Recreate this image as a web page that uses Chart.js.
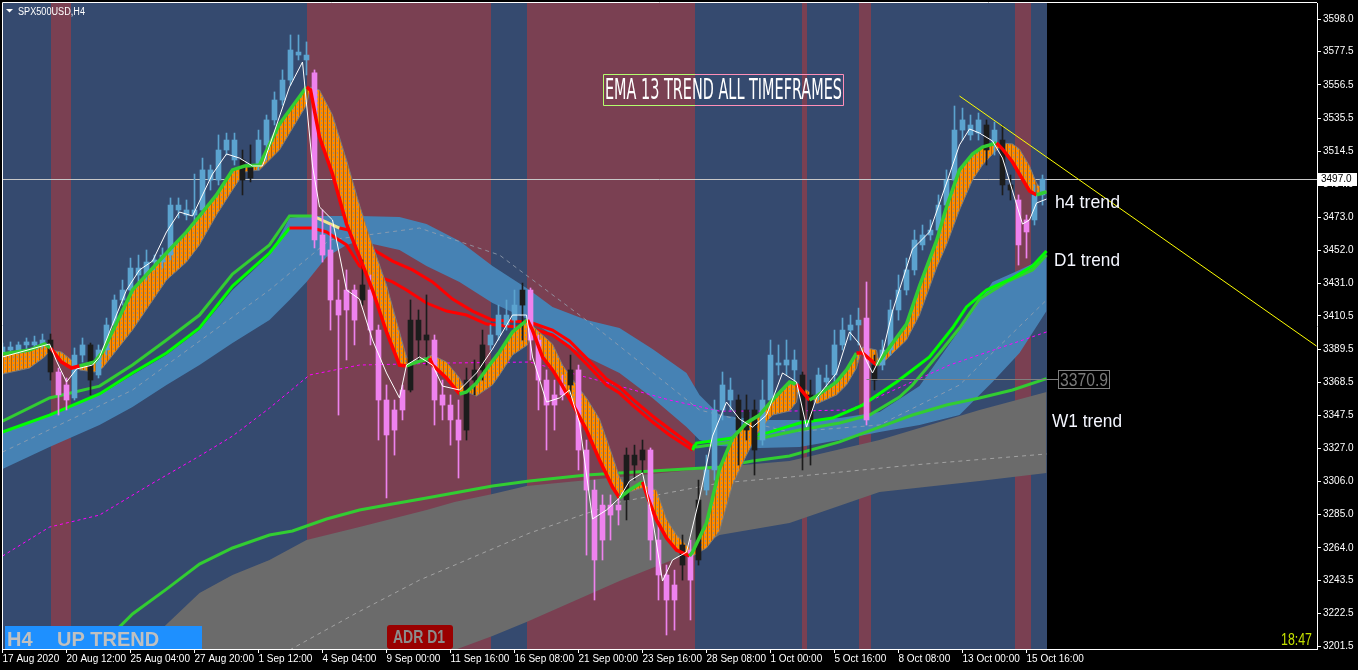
<!DOCTYPE html>
<html>
<head>
<meta charset="utf-8">
<title>SPX500USD,H4</title>
<script src="https://cdn.jsdelivr.net/npm/chart.js@4.4.0/dist/chart.umd.min.js"></script>
<style>
  html, body { margin: 0; padding: 0; background: #000; }
  #wrap { width: 1358px; height: 670px; }
</style>
</head>
<body>
<div id="wrap"><canvas id="chart" width="1358" height="670"></canvas></div>
<script>
/* ========================================================
   DATA  (x = H4 bar index, y = price)
======================================================== */
const symbolName  = 'SPX500USD,H4';
const chartTitle  = 'EMA 13 TREND ALL TIMEFRAMES';
const currentPrice = 3497.0;
const w1Level      = 3370.9;

const xTickBars   = [0, 16, 32, 48, 64, 80, 96, 112, 128, 144, 160, 176, 192, 208, 224, 240, 256];
const xTickLabels = ['17 Aug 2020', '20 Aug 12:00', '25 Aug 04:00', '27 Aug 20:00', '1 Sep 12:00', '4 Sep 04:00',
                     '9 Sep 00:00', '11 Sep 16:00', '16 Sep 08:00', '21 Sep 00:00', '23 Sep 16:00', '28 Sep 08:00',
                     '1 Oct 00:00', '5 Oct 16:00', '8 Oct 08:00', '13 Oct 00:00', '15 Oct 16:00'];
const yTickValues = [3598.0, 3577.5, 3556.5, 3535.5, 3514.5, 3494.0, 3473.0, 3452.0, 3431.0, 3410.5,
                     3389.5, 3368.5, 3347.5, 3327.0, 3306.0, 3285.0, 3264.0, 3243.5, 3222.5, 3201.5];

// trend sessions behind the candles (1 = up, -1 = down)
const bandFrom = [-0.25, 12, 17, 76, 122, 131, 173, 200, 201, 214, 217, 253, 257];
const bandTo   = [12, 17, 76, 122, 131, 173, 200, 201, 214, 217, 253, 257, 261];
const bandDir  = [1, -1, 1, -1, 1, -1, 1, -1, 1, -1, 1, -1, 1];

// candles, one every 2 H4 bars
const candleOpen = [3387.7,3390.9,3389.0,3392.2,3394.1,3392.2,3395.3,3375.1,3366.9,3358.7,3385.8,3392.2,3373.2,3389.0,3404.8,3420.6,3426.9,3440.8,3436.4,3444.6,
  3444.6,3449.0,3480.6,3477.5,3474.3,3477.5,3502.8,3496.4,3515.4,3521.7,3509.1,3497.7,3505.9,3518.6,3534.4,3547.0,3559.6,3577.3,3575.4,3564.1,
  3461.7,3452.2,3420.6,3414.3,3426.9,3420.6,3426.9,3401.6,3357.4,3338.4,3351.1,3363.7,3407.9,3395.3,3395.3,3360.6,3354.2,3344.8,3338.4,3370.0,
  3376.4,3392.2,3398.5,3411.1,3407.9,3417.4,3426.9,3395.3,3370.0,3354.2,3360.6,3366.9,3376.4,3325.8,3300.5,3268.9,3291.0,3287.9,3294.2,3322.6,
  3319.5,3325.8,3268.9,3246.8,3231.0,3253.1,3262.6,3256.3,3300.5,3313.2,3351.1,3363.7,3357.4,3338.4,3351.1,3332.1,3357.4,3379.5,3379.5,3382.7,
  3373.2,3344.8,3360.6,3371.3,3373.2,3392.2,3401.6,3404.8,3409.2,3370.0,3379.5,3389.0,3414.3,3426.9,3439.6,3455.4,3461.7,3464.8,3480.6,3496.4,
  3528.0,3531.2,3526.1,3531.2,3518.6,3521.7,3493.3,3483.8,3463.6,3471.2,3487.0];
const candleHigh = [3393.4,3394.1,3394.1,3396.6,3397.8,3399.1,3399.1,3377.6,3371.3,3390.3,3396.6,3393.4,3392.2,3409.2,3423.8,3433.2,3447.1,3449.0,3452.2,3449.0,
  3453.5,3485.1,3485.1,3483.8,3500.2,3510.3,3505.9,3524.9,3526.1,3526.1,3515.4,3518.6,3528.0,3537.5,3552.1,3566.0,3588.1,3588.1,3583.7,3566.0,
  3477.5,3468.0,3433.2,3439.6,3430.1,3445.9,3436.4,3404.8,3366.9,3357.4,3366.9,3420.6,3414.3,3423.8,3398.5,3370.0,3360.6,3357.4,3377.6,3382.7,
  3401.6,3404.8,3417.4,3420.6,3426.9,3431.3,3428.2,3398.5,3376.4,3370.0,3373.2,3385.8,3379.5,3332.1,3306.8,3297.4,3297.4,3297.4,3327.1,3328.9,
  3332.1,3327.1,3281.6,3253.1,3249.9,3272.1,3268.9,3306.8,3322.6,3357.4,3375.1,3371.3,3360.6,3360.6,3357.4,3370.0,3395.3,3392.2,3395.3,3389.0,
  3375.1,3370.0,3377.6,3379.5,3401.6,3409.2,3411.1,3415.5,3432.0,3385.8,3395.3,3420.6,3436.4,3447.1,3464.8,3468.0,3471.2,3487.0,3502.8,3543.2,
  3541.9,3537.5,3538.8,3534.4,3533.1,3531.2,3499.6,3487.0,3474.3,3493.3,3499.6];
const candleLow = [3385.2,3387.7,3386.5,3389.0,3390.3,3390.3,3370.0,3347.9,3351.1,3357.4,3381.4,3360.6,3371.3,3385.8,3401.6,3417.4,3423.8,3430.1,3433.2,3439.6,
  3440.8,3445.9,3472.4,3471.2,3468.0,3474.3,3490.1,3493.3,3512.2,3505.9,3487.0,3495.2,3502.8,3509.1,3531.2,3543.8,3556.5,3572.3,3562.8,3453.5,
  3444.6,3401.6,3347.9,3382.7,3392.2,3417.4,3392.2,3332.1,3295.5,3322.6,3344.8,3362.5,3382.7,3379.5,3341.6,3344.8,3328.9,3308.1,3332.1,3360.6,
  3370.0,3389.0,3395.3,3401.6,3401.6,3395.3,3382.7,3351.1,3325.8,3338.4,3357.4,3357.4,3313.2,3259.4,3231.0,3256.3,3268.9,3278.4,3281.6,3306.8,
  3310.0,3256.3,3231.0,3208.9,3212.0,3243.6,3218.4,3253.1,3297.4,3306.8,3344.8,3351.1,3316.3,3332.1,3310.0,3328.9,3354.2,3373.2,3373.2,3366.9,
  3313.2,3316.3,3357.4,3363.7,3366.9,3389.0,3395.3,3392.2,3341.6,3363.7,3376.4,3385.8,3407.9,3423.8,3436.4,3452.2,3458.5,3459.8,3477.5,3493.3,
  3521.7,3521.7,3521.7,3505.9,3512.2,3487.0,3483.8,3442.7,3447.1,3468.0,3480.6];
const candleClose = [3390.9,3389.0,3392.2,3394.1,3392.2,3395.3,3375.1,3360.6,3357.4,3385.8,3392.2,3370.0,3389.0,3404.8,3420.6,3426.9,3440.8,3436.4,3444.6,3445.9,
  3449.0,3480.6,3477.5,3474.3,3477.5,3502.8,3496.4,3515.4,3521.7,3509.1,3496.4,3505.9,3521.7,3534.4,3547.0,3559.6,3578.6,3575.4,3572.3,3458.5,
  3449.0,3420.6,3411.1,3426.9,3407.9,3430.1,3401.6,3357.4,3335.3,3351.1,3363.7,3407.9,3395.3,3398.5,3357.4,3354.2,3344.8,3332.1,3370.0,3376.4,
  3392.2,3398.5,3411.1,3404.8,3417.4,3426.9,3395.3,3370.0,3354.2,3360.6,3366.9,3376.4,3325.8,3300.5,3256.3,3291.0,3284.7,3291.0,3322.6,3316.3,
  3325.8,3268.9,3246.8,3231.0,3240.5,3265.8,3243.6,3294.2,3313.2,3351.1,3366.9,3357.4,3338.4,3351.1,3325.8,3357.4,3385.8,3380.8,3382.7,3376.4,
  3344.8,3360.6,3373.2,3368.8,3392.2,3401.6,3404.8,3407.9,3344.8,3379.5,3389.0,3414.3,3426.9,3439.6,3458.5,3461.7,3464.8,3480.6,3496.4,3528.0,
  3534.4,3524.9,3534.4,3515.4,3528.0,3493.3,3490.1,3455.4,3471.2,3487.0,3497.0];
// H4 trend state of each candle (1 up, -1 down, 0 mixed)
const candleTrend = [1,1,1,1,1,1,0,-1,-1,1,1,0,1,1,1,1,1,1,1,1,
  1,1,1,1,1,1,1,1,1,1,0,0,1,1,1,1,1,1,1,-1,
  -1,-1,-1,-1,-1,0,-1,-1,-1,-1,-1,0,0,0,-1,-1,-1,-1,0,0,
  0,1,1,1,1,0,-1,-1,-1,-1,-1,0,-1,-1,-1,-1,-1,-1,0,0,
  0,-1,-1,-1,-1,0,-1,0,1,1,1,1,0,0,0,1,1,1,1,1,
  0,0,1,1,1,1,1,1,-1,0,1,1,1,1,1,1,1,1,1,1,
  1,1,1,0,1,0,0,-1,-1,1,1];

// thin fast average
const whiteLine = [[0,3384.6],[11.75,3392.8],[13.5,3382.0],[16,3368.8],[18.5,3377.0],[22.5,3379.5],[24.25,3384.6],[26.75,3400.4],[31,3426.9],[34.25,3439.6],
  [37.5,3445.2],[41,3463.6],[44.25,3476.2],[47.5,3473.7],[50,3487.0],[52.5,3500.2],[56,3512.9],[59.25,3510.3],[62.5,3505.3],[65,3505.3],
  [67.5,3523.6],[71.75,3555.2],[75,3571.0],[77.5,3505.3],[79.25,3479.4],[82.5,3471.2],[86,3426.9],[89.25,3421.2],[92.5,3395.3],[96,3374.5],
  [99.25,3358.7],[101,3379.5],[104.25,3384.6],[107.5,3379.5],[110,3366.2],[114.25,3363.7],[118.5,3374.5],[122.5,3389.6],[127.5,3411.1],[131,3411.1],
  [132.5,3384.6],[136,3356.1],[139.25,3358.7],[141.75,3363.7],[144.25,3342.9],[147.5,3282.2],[151,3287.9],[154.25,3295.5],[156.75,3306.2],[160,3311.3],
  [162.5,3282.2],[165,3243.0],[167.5,3256.3],[171,3261.3],[174.25,3295.5],[177.5,3334.6],[181,3356.1],[184.25,3345.4],[187.5,3340.3],[191,3347.9],
  [195,3374.5],[198.5,3368.8],[201,3340.3],[203.5,3358.7],[208.5,3374.5],[211.75,3400.4],[214.25,3392.8],[216,3382.0],[217.5,3374.5],[220,3387.1],
  [222.5,3413.6],[227.5,3452.8],[231.75,3463.6],[236,3494.5],[239.25,3518.6],[241.75,3528.7],[244.25,3526.1],[247.5,3521.1],[250,3510.3],[252.5,3489.5],
  [255,3468.6],[256.75,3471.2],[258.5,3481.9],[261,3484.4]];

// H4 EMA 13 ribbon: [bar, fast edge, slow edge, trend]
const ribbon = [[0,3386.5,3373.8,1],[6.75,3389.0,3377.6,1],[10.5,3392.8,3384.6,1],[12,3390.3,3389.0,-1],[14.75,3381.4,3387.7,-1],
  [17.25,3377.6,3382.7,-1],[19.25,3378.9,3376.4,1],[23,3381.4,3375.1,1],[25,3387.7,3377.6,1],[32.5,3426.9,3401.6,1],
  [41,3450.3,3433.2,1],[46,3463.6,3444.6,1],[49.25,3473.7,3455.4,1],[53.5,3487.0,3474.3,1],[57.5,3502.8,3490.1,1],
  [60.5,3505.3,3501.5,1],[64.25,3505.9,3502.8,1],[69.25,3531.8,3515.4,1],[76,3555.2,3543.8,-1],[77,3553.3,3555.2,-1],
  [79.25,3523.6,3553.3,-1],[82.5,3500.2,3537.5,-1],[86,3468.6,3509.1,-1],[89.25,3447.8,3480.6,-1],[92.5,3426.9,3455.4,-1],
  [96,3400.4,3430.1,-1],[99.25,3379.5,3400.4,-1],[101,3378.9,3384.6,1],[102.25,3380.2,3381.4,1],[106.75,3383.9,3385.2,-1],
  [107.5,3379.5,3385.8,-1],[111,3371.3,3381.4,-1],[114.25,3361.2,3371.3,1],[116,3362.5,3362.5,1],[118.5,3368.1,3359.9,1],
  [122.5,3382.0,3366.9,1],[124.25,3387.7,3373.2,1],[127.5,3400.4,3385.8,1],[131.25,3408.0,3392.2,-1],[132.5,3401.6,3404.2,-1],
  [135,3384.6,3398.5,-1],[137.5,3376.4,3392.8,-1],[140,3366.2,3379.5,-1],[143.5,3350.4,3366.9,-1],[146,3338.4,3358.7,-1],
  [149.25,3319.5,3345.4,-1],[152.5,3302.4,3322.0,-1],[154.25,3295.5,3308.7,1],[156.75,3300.5,3299.3,1],[160,3305.6,3301.8,-1],
  [161,3298.0,3303.0,-1],[163.5,3281.6,3300.5,-1],[166,3270.2,3282.2,-1],[168.5,3262.6,3272.1,-1],[171.75,3258.8,3263.9,1],
  [172.5,3261.3,3258.8,1],[176,3279.7,3263.9,1],[179.25,3313.8,3274.6,1],[182.5,3333.4,3303.7,1],[186,3342.9,3322.6,1],
  [189.25,3347.9,3338.4,1],[192.5,3357.4,3347.9,1],[196.75,3368.8,3350.4,1],[198.5,3367.5,3356.1,-1],[199.25,3365.0,3366.2,-1],
  [201.75,3357.4,3362.5,1],[203.5,3359.9,3354.9,1],[208.5,3368.8,3360.6,1],[211,3376.4,3366.9,1],[213.5,3387.1,3377.6,-1],
  [215,3387.1,3390.9,-1],[218.5,3379.5,3389.0,1],[219.25,3382.0,3378.9,1],[226,3405.4,3395.3,1],[229.25,3429.4,3411.1,1],
  [233.5,3457.9,3440.8,1],[236,3479.4,3455.4,1],[239.25,3502.8,3477.5,1],[242.5,3512.9,3496.4,1],[245,3517.3,3505.9,1],
  [248.5,3519.8,3515.4,-1],[250,3516.0,3519.8,-1],[252.5,3507.8,3519.2,-1],[254.25,3500.2,3516.0,-1],[256.75,3489.5,3505.3,-1],
  [258.5,3487.0,3494.5,1],[260,3488.2,3490.1,1],[261,3488.9,3489.5,1]];

// D1 trend lines: [bar, price, trend]
const d1Fast = [[0,3337.2,1],[11.75,3347.9,1],[24.25,3361.2,1],[32.5,3374.5,1],[41,3387.1,1],[49.25,3402.9,1],[57.5,3429.4,1],[66.75,3450.3,1],
  [71.75,3466.1,-1],[77.5,3466.1,-1],[81,3463.6,-1],[86,3455.4,-1],[89.25,3442.1,-1],[92.5,3437.0,-1],[97.5,3432.0,-1],[101,3426.9,-1],
  [106,3418.7,-1],[111,3413.6,-1],[116,3411.1,-1],[121,3405.4,-1],[126,3404.2,-1],[131.75,3402.9,-1],[137.5,3398.5,-1],[141.75,3390.9,-1],
  [146,3380.2,-1],[151,3366.9,-1],[154.25,3361.8,-1],[157.5,3354.2,-1],[162.5,3343.5,-1],[166.75,3335.3,-1],[172.5,3325.8,1],[173.5,3330.2,1],
  [182.5,3333.4,1],[191,3336.5,1],[199.25,3342.9,1],[207.5,3346.0,1],[215,3354.2,1],[223.5,3368.8,1],[231.75,3384.6,1],[237.5,3402.9,1],
  [241,3416.2,1],[246,3426.9,1],[252.5,3434.5,1],[257.5,3442.1,1],[261,3451.6,1]];
const d1Slow = [[0,3344.1,1],[11.75,3358.7,1],[24.25,3366.2,1],[32.5,3379.5,1],[41,3395.3,1],[49.25,3411.1,1],[57.5,3437.0,1],[66.75,3455.4,1],
  [71.75,3473.7,1],[77.5,3473.7,0],[84.25,3466.1,-1],[88.75,3463.6,-1],[92.5,3452.8,-1],[97.5,3445.2,-1],[102.5,3439.6,-1],[107.5,3432.0,-1],
  [112.5,3421.2,-1],[117.5,3413.6,-1],[122.5,3407.9,-1],[131.75,3406.7,-1],[137.5,3401.6,-1],[141.75,3394.7,-1],[146,3383.9,-1],[151,3370.7,-1],
  [154.25,3365.6,-1],[157.5,3358.0,-1],[162.5,3347.3,-1],[166.75,3339.1,-1],[172.5,3328.3,1],[173.5,3327.7,1],[182.5,3330.9,1],[191,3334.0,1],
  [199.25,3338.4,1],[209.25,3342.9,1],[216.75,3347.9,1],[224.25,3359.3,1],[227.5,3366.9,1],[234.25,3387.1,1],[239.25,3402.9,1],[244.25,3421.2,1],
  [251,3432.0,1],[257.5,3439.6,1],[261,3449.0,1]];

// W1 trend line
const w1Line = [[23.5,3199.4],[32.5,3222.2],[41,3237.9],[49.25,3253.7],[57.5,3263.9],[66.75,3272.1],[72.5,3274.6],[81,3282.2],[89.25,3287.9],
  [97.5,3291.7],[106,3295.5],[114.25,3299.3],[122.5,3303.0],[131.75,3306.2],[146,3310.0],[162.5,3312.5],[179.25,3315.1],[187.5,3318.8],
  [196.75,3322.0],[209.25,3330.9],[219.25,3340.3],[227.5,3347.9],[236,3354.2],[244.25,3358.7],[252.5,3363.7],[261,3370.9]];

const magentaLine = [[0,3258.8],[11.75,3277.1],[24.25,3284.7],[36.75,3303.7],[49.25,3322.0],[57.5,3334.6],[66.75,3352.3],[76.75,3373.2],
  [89.25,3379.5],[111.75,3380.8],[131.75,3381.4],[154.25,3366.2],[166.75,3357.4],[179.25,3350.4],[196.75,3350.4],[211.75,3351.1],
  [236.75,3379.5],[261,3400.4]];

// D1 envelope
const blueBandBars = [0,11.75,24.25,32.5,41,49.25,57.5,66.75,71.75,76,81,86,89.25,99.25,106,114.25,122.5,131.75,137.5,146,
  154.25,162.5,171,174.25,179.25,189.25,199.25,209.25,219.25,229.25,239.25,247.5,254.25,261];
const blueBandTop = [3337.2,3347.9,3360.6,3373.2,3385.8,3401.6,3426.9,3449.0,3472.4,3473.7,3473.7,3473.7,3473.7,3473.1,3468.6,3457.9,3442.1,3426.9,3416.2,3407.9,
  3402.9,3389.6,3374.5,3360.6,3347.9,3344.8,3344.8,3346.0,3349.8,3366.2,3401.6,3432.0,3439.6,3447.8];
const blueBandBottom = [3313.8,3327.7,3341.6,3353.0,3366.9,3379.5,3393.4,3407.9,3420.6,3432.0,3447.8,3455.4,3457.9,3452.2,3442.1,3432.0,3418.7,3407.9,3398.5,3384.6,
  3374.5,3358.7,3340.3,3332.1,3328.3,3327.1,3327.7,3332.1,3337.2,3341.6,3347.9,3368.8,3387.1,3413.6];
const blueMidLine = [[0,3324.5],[32.5,3363.7],[66.75,3426.9],[81.75,3458.5],[104.25,3466.1],[124.25,3449.0],[149.25,3401.6],
  [174.25,3351.1],[196.75,3337.2],[219.25,3341.6],[239.25,3366.9],[261,3420.6]];

// W1 envelope
const grayBandBars = [23.5,34.25,49.25,57.5,66.75,76,89.25,106,113,122.5,131,154.25,172.5,179.25,196.75,219.25,244.25,261];
const grayBandTop = [3180.4,3199.4,3235.4,3246.8,3256.3,3268.9,3277.1,3287.9,3292.9,3298.0,3303.0,3308.7,3313.2,3315.1,3318.8,3332.1,3351.1,3362.5];
const grayBandBottom = [3129.9,3136.2,3142.5,3148.8,3155.2,3164.6,3174.1,3189.9,3199.4,3208.2,3217.1,3243.0,3261.3,3272.1,3279.7,3299.3,3306.2,3311.3];
const grayMidLine = [[71.75,3199.4],[88.5,3222.8],[104.25,3243.6],[131.75,3273.3],[154.25,3292.9],[179.25,3304.9],[196.75,3308.7],[227.5,3316.3],[261,3323.3]];

const trendLine = [[239.25,3549.5],[328.5,3391.5]];

/* ========================================================
   HELPERS
======================================================== */
Chart.defaults.font.family = '"Liberation Sans", Arial, sans-serif';

const canvas = document.getElementById('chart');
const toXY = pts => pts.map(p => ({ x: p[0], y: p[1] }));
const trendColor = (dir, up) => dir > 0 ? up : (dir < 0 ? '#ff0000' : '#f0e68c');
const candleColor = i => candleTrend[i] > 0 ? '#5ba3cf' : (candleTrend[i] < 0 ? '#ee82ee' : '#1c1c1c');

// orange hatch for the H4 ribbon
const hatch = document.createElement('canvas');
hatch.width = 4; hatch.height = 4;
const hc = hatch.getContext('2d');
hc.fillStyle = '#ff8c00'; hc.fillRect(0, 0, 4, 4);
hc.fillStyle = '#b86200'; hc.fillRect(3, 0, 1, 4);
hc.fillStyle = '#8c8c8c'; hc.fillRect(1, 0, 1, 2);
const ribbonPattern = canvas.getContext('2d').createPattern(hatch, 'repeat');

/* ========================================================
   DECORATION PLUGIN
======================================================== */
const chartDecor = {
    id: 'chartDecor',
    beforeDraw(chart) {
        const c = chart.ctx;
        c.save();
        c.fillStyle = '#000';
        c.fillRect(0, 0, chart.width, chart.height);
        c.restore();
    },
    beforeDatasetsDraw(chart) {
        const { ctx: c, chartArea: a, scales: { x, y } } = chart;
        c.save();
        c.beginPath();
        c.rect(a.left, a.top, a.right - a.left, a.bottom - a.top);
        c.clip();
        bandFrom.forEach((from, i) => {
            const x0 = Math.round(x.getPixelForValue(from));
            const x1 = Math.round(x.getPixelForValue(bandTo[i]));
            c.fillStyle = bandDir[i] > 0 ? '#354a6f' : '#7a4052';
            c.fillRect(x0, a.top, x1 - x0, a.bottom - a.top);
        });
        const yp = Math.round(y.getPixelForValue(currentPrice)) + 0.5;
        c.strokeStyle = '#c8c8c8';
        c.lineWidth = 1;
        c.beginPath(); c.moveTo(a.left, yp); c.lineTo(a.right, yp); c.stroke();
        c.restore();
    },
    afterDraw(chart) {
        const { ctx: c, chartArea: a, scales: { x, y } } = chart;
        c.save();

        // frame
        c.strokeStyle = '#ffffff';
        c.lineWidth = 1;
        c.beginPath();
        c.moveTo(a.left + 0.5, a.bottom);
        c.lineTo(a.left + 0.5, a.top - 0.5);
        c.lineTo(a.right, a.top - 0.5);
        c.stroke();

        // symbol
        c.fillStyle = '#ffffff';
        c.beginPath(); c.moveTo(6, 9); c.lineTo(13, 9); c.lineTo(9.5, 12.5); c.closePath(); c.fill();
        c.font = '10px "Liberation Sans"';
        c.textBaseline = 'alphabetic';
        c.fillText(symbolName, 18, 14.5, 67);

        // title box
        c.strokeStyle = '#b4ff6e';
        c.beginPath(); c.moveTo(695, 74.5); c.lineTo(603.5, 74.5); c.lineTo(603.5, 105.5); c.lineTo(695, 105.5); c.stroke();
        c.strokeStyle = '#ff8fb8';
        c.beginPath(); c.moveTo(695, 74.5); c.lineTo(843.5, 74.5); c.lineTo(843.5, 105.5); c.lineTo(695, 105.5); c.stroke();
        c.fillStyle = '#ffffff';
        c.font = '28px "Liberation Sans Narrow", "DejaVu Sans Condensed", sans-serif';
        c.fillText(chartTitle, 605, 98.5, 237);

        // H4 status
        c.fillStyle = '#1e90ff';
        c.fillRect(5, 626, 197, 23);
        c.fillStyle = '#c0c0c0';
        c.font = 'bold 20px "Liberation Sans"';
        c.fillText('H4', 7, 645.5, 27);
        c.fillText('UP TREND', 57, 645.5, 106);

        // ADR D1
        c.fillStyle = '#9a0000';
        c.beginPath(); c.roundRect(387, 625, 66, 24, 3); c.fill();
        c.fillStyle = '#8c8c8c';
        c.font = 'bold 19px "Liberation Sans"';
        c.fillText('ADR D1', 393, 643, 52);

        // clock
        c.fillStyle = '#c4e000';
        c.font = '17px "Liberation Sans"';
        c.fillText('18:47', 1281, 645, 31);

        // trend labels
        c.fillStyle = '#f4f6ff';
        c.font = '19px "Liberation Sans"';
        c.fillText('h4 trend', 1055, 208, 65);
        c.fillText('D1 trend', 1054, 265.5, 66);
        c.fillText('W1 trend', 1052, 427, 70);

        // W1 level
        const yl = Math.round(y.getPixelForValue(w1Level)) + 0.5;
        c.strokeStyle = '#808080';
        c.beginPath(); c.moveTo(x.getPixelForValue(216), yl); c.lineTo(1058, yl); c.stroke();
        c.strokeRect(1058.5, yl - 9, 51, 18);
        c.fillStyle = '#7a7a7a';
        c.font = '18px "Liberation Sans"';
        c.fillText(w1Level.toFixed(1), 1060, yl + 6.5, 48);

        // current price tag
        const yc = y.getPixelForValue(currentPrice);
        c.fillStyle = '#ffffff';
        c.fillRect(1318, Math.round(yc) - 6, 39, 13);
        c.fillStyle = '#000000';
        c.font = '10px "Liberation Sans"';
        c.textBaseline = 'middle';
        c.fillText(currentPrice.toFixed(1), 1321, yc + 0.5);

        c.restore();
    }
};

/* ========================================================
   CHART
======================================================== */
new Chart(canvas, {
    type: 'line',
    data: {
        datasets: [
            { data: toXY(trendLine), borderColor: '#ffff00', borderWidth: 1, order: 0 },
            { data: toXY(whiteLine), borderColor: '#ffffff', borderWidth: 1, order: 1 },
            {
                data: ribbon.map(r => ({ x: r[0], y: r[1] })),
                borderColor: '#32cd32', borderWidth: 3.5,
                segment: { borderColor: s => trendColor(ribbon[s.p0DataIndex][3], '#32cd32') },
                order: 2
            },
            {
                type: 'bar',
                data: candleOpen.map((o, i) => ({ x: i * 2, y: [o, candleClose[i]] })),
                backgroundColor: ctx => candleColor(ctx.dataIndex),
                barThickness: 5, grouped: false, minBarLength: 1, order: 3
            },
            {
                type: 'bar',
                data: candleLow.map((l, i) => ({ x: i * 2, y: [l, candleHigh[i]] })),
                backgroundColor: ctx => candleColor(ctx.dataIndex),
                barThickness: 1, grouped: false, order: 4
            },
            {
                data: ribbon.map(r => ({ x: r[0], y: r[2] })),
                borderColor: '#7a7a7a', borderWidth: 1,
                fill: { target: 2 }, backgroundColor: ribbonPattern,
                order: 5
            },
            {
                data: toXY(d1Fast), borderColor: '#00ff00', borderWidth: 3,
                segment: { borderColor: s => trendColor(d1Fast[s.p0DataIndex][2], '#00ff00') },
                order: 6
            },
            {
                data: toXY(d1Slow), borderColor: '#32cd32', borderWidth: 3,
                segment: { borderColor: s => trendColor(d1Slow[s.p0DataIndex][2], '#32cd32') },
                order: 6
            },
            { data: toXY(w1Line), borderColor: '#32cd32', borderWidth: 3, order: 7 },
            { data: toXY(magentaLine), borderColor: '#ff00ff', borderWidth: 1, borderDash: [3, 3], order: 8 },
            { data: toXY(blueMidLine), borderColor: 'rgba(150,160,175,0.8)', borderWidth: 1, borderDash: [4, 4], order: 9 },
            {
                data: blueBandBars.map((b, i) => ({ x: b, y: blueBandTop[i] })),
                borderWidth: 0, borderColor: 'rgba(0,0,0,0)',
                fill: { target: 12 }, backgroundColor: '#4682b4', order: 10
            },
            { data: blueBandBars.map((b, i) => ({ x: b, y: blueBandBottom[i] })), borderWidth: 0, borderColor: 'rgba(0,0,0,0)', order: 11 },
            { data: toXY(grayMidLine), borderColor: 'rgba(175,175,175,0.8)', borderWidth: 1, borderDash: [4, 4], order: 12 },
            {
                data: grayBandBars.map((b, i) => ({ x: b, y: grayBandTop[i] })),
                borderWidth: 0, borderColor: 'rgba(0,0,0,0)',
                fill: { target: 15 }, backgroundColor: '#6b6b6b', order: 13
            },
            { data: grayBandBars.map((b, i) => ({ x: b, y: grayBandBottom[i] })), borderWidth: 0, borderColor: 'rgba(0,0,0,0)', order: 14 }
        ]
    },
    options: {
        responsive: false,
        animation: false,
        events: [],
        devicePixelRatio: 1,
        layout: { padding: { left: 2, top: 3, right: 0, bottom: 0 } },
        elements: { point: { radius: 0 }, line: { tension: 0 } },
        plugins: { legend: { display: false }, tooltip: { enabled: false } },
        scales: {
            x: {
                type: 'linear',
                offset: false,
                min: -0.125, max: 328.625,
                afterFit: a => { a.height = 21; a.paddingLeft = 0; a.paddingRight = 0; },
                afterBuildTicks: a => { a.ticks = xTickBars.map(v => ({ value: v })); },
                ticks: {
                    callback: (v, i) => xTickLabels[i],
                    autoSkip: false, maxRotation: 0, align: 'start',
                    color: '#ffffff', font: { size: 10 }, padding: 0
                },
                grid: { drawOnChartArea: false, offset: false, tickLength: 4, color: '#ffffff' },
                border: { color: '#ffffff' }
            },
            y: {
                position: 'right',
                min: 3200.05, max: 3608.3,
                afterFit: a => { a.width = 41; a.paddingTop = 0; a.paddingBottom = 0; },
                afterBuildTicks: a => { a.ticks = yTickValues.map(v => ({ value: v })); },
                ticks: { callback: v => v.toFixed(1), color: '#ffffff', font: { size: 10 }, padding: 2 },
                grid: { drawOnChartArea: false, tickLength: 4, color: '#ffffff' },
                border: { color: '#ffffff' }
            }
        }
    },
    plugins: [chartDecor]
});
</script>
</body>
</html>
